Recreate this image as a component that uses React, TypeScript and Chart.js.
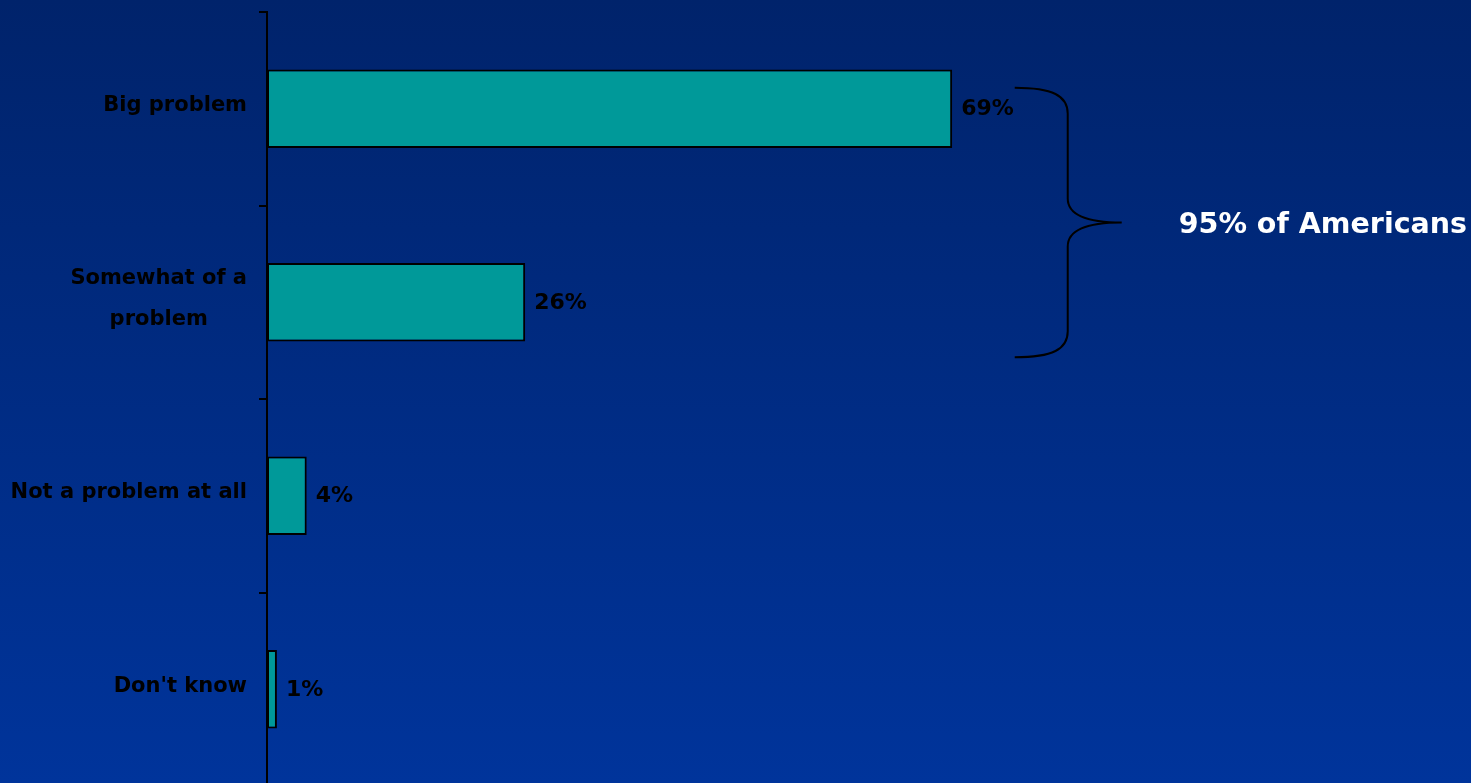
import React, { useEffect, useRef } from "react";
import { Chart, registerables } from "chart.js";

Chart.register(...registerables);

const categories: string[][] = [["Big problem"], ["Somewhat of a", "problem"], ["Not a problem at all"], ["Don't know"]];
const values: number[] = [69, 26, 4, 1];
const valueLabels: string[] = ["69%", "26%", "4%", "1%"];
const braceText = "95% of Americans";

const FONT = "'DejaVu Sans', Verdana, sans-serif";

const overlayPlugin = {
  id: "overlay",
  afterDraw(chart: any) {
    const ctx = chart.ctx;
    const x = chart.scales.x;
    const y = chart.scales.y;
    ctx.save();
    // category labels
    ctx.fillStyle = "#000";
    ctx.textBaseline = "middle";
    ctx.textAlign = "center";
    ctx.font = `bold 21px ${FONT}`;
    const right = y.right - 20;
    categories.forEach((lines, i) => {
      const cy = y.getPixelForValue(i) - 3;
      const w = Math.max(...lines.map((l) => ctx.measureText(l).width));
      const cx = right - w / 2;
      const lh = 41;
      lines.forEach((l, j) => {
        ctx.fillText(l, cx, cy + (j - (lines.length - 1) / 2) * lh);
      });
    });
    // value labels
    ctx.font = `bold 22px ${FONT}`;
    ctx.textAlign = "left";
    values.forEach((v, i) => {
      ctx.fillText(valueLabels[i], x.getPixelForValue(v) + 9, y.getPixelForValue(i) + 1);
    });
    // brace
    const yTop = y.getPixelForValue(0) - 21;
    const yBot = y.getPixelForValue(1) + 55;
    const mid = (yTop + yBot) / 2;
    const x0 = x.getPixelForValue(75.3);
    const xv = x0 + 53;
    const xt = xv + 54;
    ctx.strokeStyle = "#000";
    ctx.lineWidth = 2;
    ctx.beginPath();
    ctx.moveTo(x0, yTop);
    ctx.bezierCurveTo(x0 + 38, yTop, xv, yTop + 8, xv, yTop + 26);
    ctx.lineTo(xv, mid - 24);
    ctx.bezierCurveTo(xv, mid - 6, xv + 22, mid, xt, mid);
    ctx.moveTo(xt, mid);
    ctx.bezierCurveTo(xv + 22, mid, xv, mid + 6, xv, mid + 24);
    ctx.lineTo(xv, yBot - 26);
    ctx.bezierCurveTo(xv, yBot - 8, x0 + 38, yBot, x0, yBot);
    ctx.stroke();
    ctx.fillStyle = "#fff";
    ctx.font = `bold 28.5px ${FONT}`;
    ctx.textAlign = "left";
    ctx.fillText(braceText, xt + 57, mid + 3);
    ctx.restore();
  },
};

export default function App() {
  const ref = useRef<HTMLCanvasElement | null>(null);
  useEffect(() => {
    if (!ref.current) return;
    const chart = new Chart(ref.current, {
      type: "bar",
      data: {
        labels: categories.map((c) => c.join(" ")),
        datasets: [
          {
            data: values,
            backgroundColor: "#009999",
            borderColor: "#000",
            borderWidth: 2,
            borderSkipped: false,
            barPercentage: 0.405,
            categoryPercentage: 1,
          },
        ],
      },
      options: {
        indexAxis: "y",
        animation: false,
        responsive: true,
        maintainAspectRatio: false,
        layout: { padding: { top: 12, right: 211, bottom: 0, left: 0 } },
        plugins: { legend: { display: false }, tooltip: { enabled: false }, title: { display: false } },
        scales: {
          x: { display: false, min: 0, max: 100 },
          y: {
            afterFit: (s: any) => {
              s.width = 267;
            },
            ticks: { display: false },
            grid: { drawOnChartArea: false, color: "#000", lineWidth: 2, tickLength: 8, offset: true },
            border: { display: true, color: "#000", width: 2 },
          },
        },
      },
      plugins: [overlayPlugin],
    });
    return () => chart.destroy();
  }, []);
  return (
    <div
      style={{
        position: "fixed",
        left: 0,
        top: 0,
        width: 1471,
        height: 783,
        overflow: "hidden",
        background: "linear-gradient(to bottom, #00236b 0%, #00349b 100%)",
      }}
    >
      <div style={{ position: "relative", width: 1471, height: 786 }}>
        <canvas ref={ref} />
      </div>
    </div>
  );
}
